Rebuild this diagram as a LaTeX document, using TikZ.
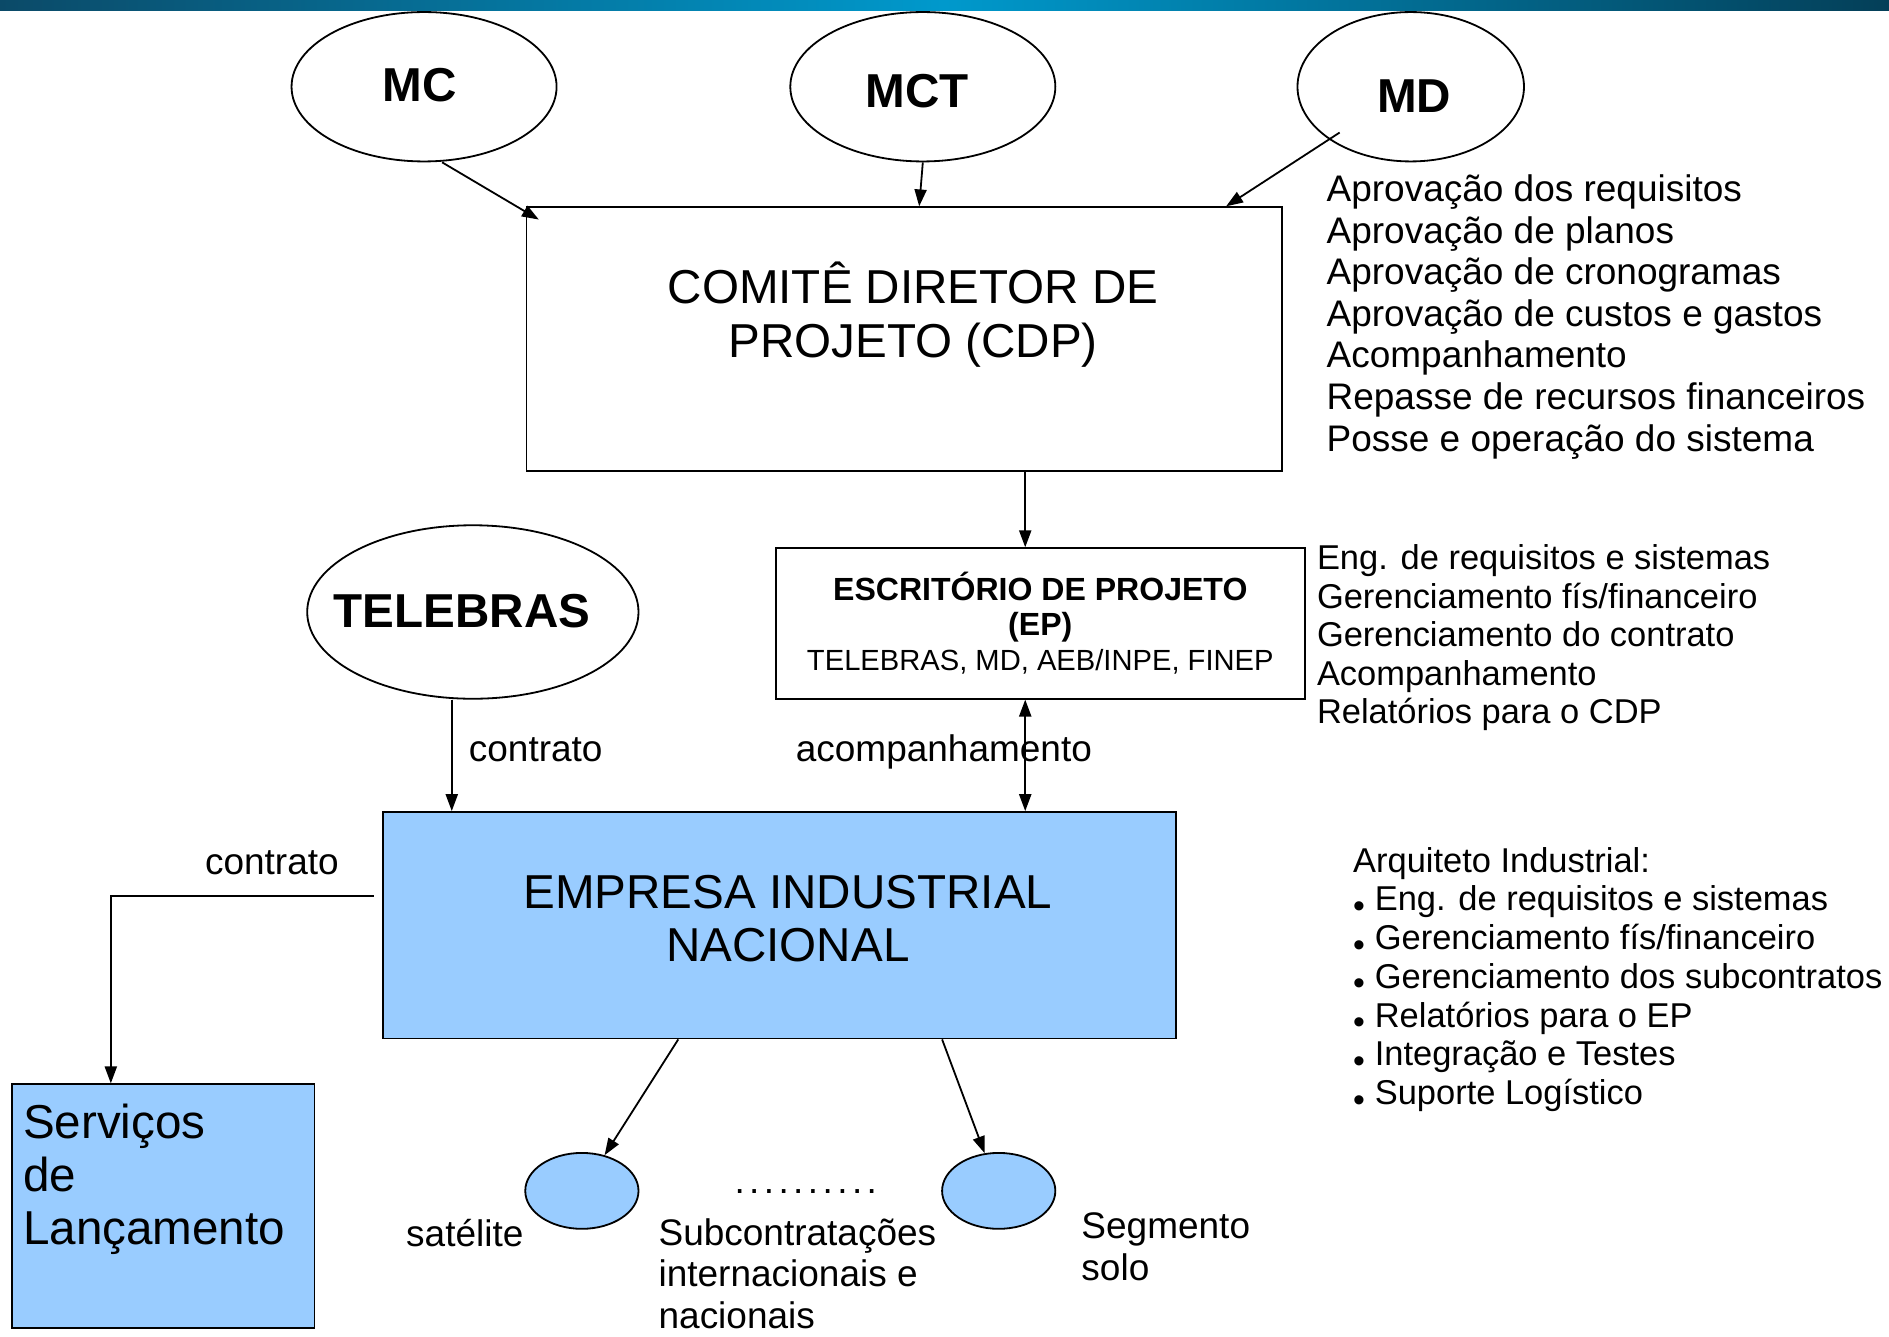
\documentclass[tikz,border=0pt]{standalone}
\usepackage{fontspec}
\setmainfont{Liberation Sans}
\usetikzlibrary{arrows.meta,shapes.geometric}
\definecolor{fillblue}{HTML}{99CCFF}
\definecolor{barleft}{HTML}{0B4A68}
\definecolor{barmid}{HTML}{0099CC}
\definecolor{barright}{HTML}{043F58}
\newcommand\arqbul{\makebox[18pt][l]{\raisebox{-5.5pt}{\fontsize{28}{28}\selectfont •}}}
\newcommand\dsep{\hspace{3.66pt}}
\begin{document}
\begin{tikzpicture}[x=1pt,y=-1pt,
  lw/.style={line width=1.5pt},
  arr/.style={lw,-{Triangle[length=14pt,width=10pt]}},
  dblarr/.style={lw,{Triangle[length=14pt,width=10pt]}-{Triangle[length=14pt,width=10pt]}},
  box/.style={draw,lw,rectangle,inner sep=0},
  ell/.style={draw,lw,ellipse,inner sep=0,fill=white},
  bigb/.style={font=\fontsize{39.5}{45}\selectfont\bfseries},
  big/.style={font=\fontsize{39.5}{45}\selectfont},
  bigb44/.style={font=\fontsize{39.5}{44}\selectfont},
  mid/.style={font=\fontsize{30.7}{34.5}\selectfont},
  sm/.style={font=\fontsize{28.6}{32}\selectfont},
  arqf/.style={font=\fontsize{28.6}{32.17}\selectfont},
  txt/.style={inner sep=0}
]
\useasboundingbox (0,0) rectangle (1568,1109);
\fill[white] (0,0) rectangle (1568,1109);
% top bar
\shade[left color=barleft, right color=barright, middle color=barmid] (0,0) rectangle (1568,9);

% ministries
\node[ell,minimum width=220,minimum height=124] (mc) at (352,72) {};
\node[ell,minimum width=220,minimum height=124] (mct) at (766,72) {};
\node[ell,minimum width=188,minimum height=124] (md) at (1171,72) {};
\node[bigb,txt,anchor=base] (mctxt) at (348.5,84) {MC};
\node[bigb,txt,anchor=base] (mcttxt) at (761.5,89) {MCT};
\node[bigb,txt,anchor=base] (mdtxt) at (1174,93) {MD};

% CDP
\node[box,minimum width=627,minimum height=219] (cdp) at (750.5,281.5) {};
\node[big,txt,anchor=south,align=center] (cdptxt) at (758,310.5) {COMITÊ DIRETOR DE\\PROJETO (CDP)\strut};
\node[mid,txt,anchor=south west,align=left] (cdplist) at (1101,385)
  {Aprovação dos requisitos\\Aprovação de planos\\Aprovação de cronogramas\\Aprovação de custos e gastos\\Acompanhamento\\Repasse de recursos financeiros\\Posse e operação do sistema\strut};

% EP
\node[box,minimum width=439,minimum height=125,align=center,font=\fontsize{26.6}{29}\selectfont] (ep) at (863.5,517.5)
  {\textbf{ESCRITÓRIO DE PROJETO}\\\textbf{(EP)}\\{\fontsize{24.2}{29}\selectfont TELEBRAS, MD, AEB/INPE, FINEP}};
\node[sm,txt,anchor=south west,align=left] (eplist) at (1093,610.6)
  {Eng. de requisitos e sistemas\\Gerenciamento fís/financeiro\\Gerenciamento do contrato\\Acompanhamento\\Relatórios para o CDP\strut};

% TELEBRAS
\node[ell,minimum width=275,minimum height=144] (tel) at (392.5,508) {};
\node[bigb,txt,anchor=base] (teltxt) at (383.5,521) {TELEBRAS};

% Empresa
\node[box,fill=fillblue,minimum width=658,minimum height=188] (emp) at (647,768) {};
\node[bigb44,txt,anchor=south,align=center] (emptxt) at (654,811.2) {EMPRESA INDUSTRIAL\\NACIONAL\strut};

% Servicos
\node[box,fill=fillblue,minimum width=251,minimum height=202] (serv) at (135.5,1001) {};
\node[bigb44,txt,anchor=south west,align=left] (servtxt) at (19,1046.2) {Serviços\\de\\Lançamento\strut};

% subcontracts
\node[draw,lw,ellipse,fill=fillblue,inner sep=0,minimum width=94,minimum height=63] (sat) at (483,988.5) {};
\node[draw,lw,ellipse,fill=fillblue,inner sep=0,minimum width=94,minimum height=63] (seg) at (829,988.5) {};

% labels
\node[mid,txt,anchor=base west] (contr1) at (389,632) {contrato};
\node[mid,txt,anchor=base] (acomp) at (783.5,632) {acompanhamento};
\node[mid,txt,anchor=base west] (contr2) at (170,726) {contrato};
\node[mid,txt,anchor=base west] (sattxt) at (337,1035) {satélite};
\node[mid,txt,anchor=south west,align=left] (segtxt) at (897.5,1073.4) {Segmento\\solo\strut};
\node[mid,txt,anchor=south west,align=left] (subtxt) at (546.5,1103) {Subcontratações\\internacionais e\\nacionais};
\node[mid,txt,anchor=base] (dotrow) at (668.8,991) {.\dsep.\dsep.\dsep.\dsep.\dsep.\dsep.\dsep.\dsep.\dsep.};

% Arquiteto
\node[arqf,txt,anchor=south west,align=left] (arq) at (1123,926.7)
  {Arquiteto Industrial:\\\arqbul Eng. de requisitos e sistemas\\\arqbul Gerenciamento fís/financeiro\\\arqbul Gerenciamento dos subcontratos\\\arqbul Relatórios para o EP\\\arqbul Integração e Testes\\\arqbul Suporte Logístico\strut};

% connectors
\draw[arr] ([xshift=15pt]mc.south) -- ([xshift=11pt,yshift=-11pt]cdp.north west);
\draw[arr] (mct.south) -- ([xshift=12.5pt]cdp.north);
\draw[arr] ([xshift=-59pt,yshift=-38pt]md.center) -- ([xshift=-47pt]cdp.north east);
\draw[arr] ([xshift=100.5pt]cdp.south) -- ([xshift=-12.5pt]ep.north);
\draw[dblarr] ([xshift=-12.5pt]ep.south) -- ([xshift=204pt]emp.north);
\draw[arr] ([xshift=-17.5pt]tel.south) -- ([xshift=-272pt]emp.north);
\draw[arr] ([xshift=-7pt,yshift=24pt]emp.west) -| ([xshift=-43.5pt]serv.north);
\draw[arr] ([xshift=-84pt]emp.south) -- (sat);
\draw[arr] ([xshift=135pt]emp.south) -- (seg);
\end{tikzpicture}
\end{document}
